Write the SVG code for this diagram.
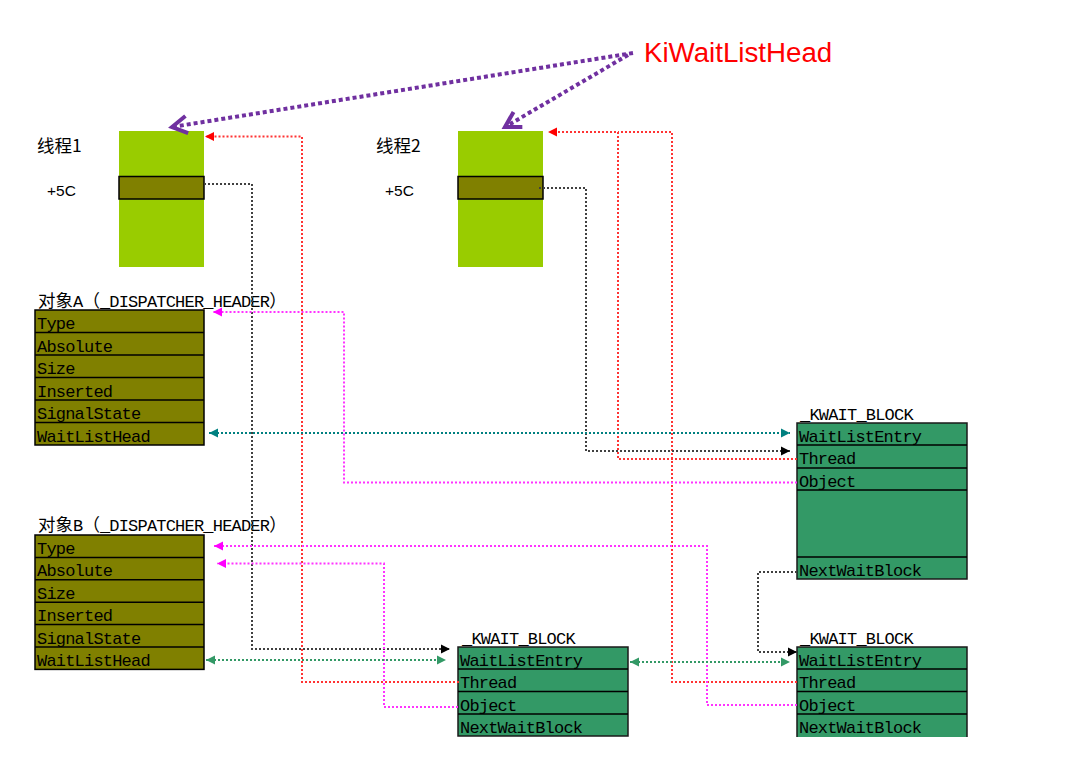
<svg xmlns="http://www.w3.org/2000/svg" width="1066" height="781" viewBox="0 0 1066 781">
<style>
.mono{font-family:"Liberation Mono","DejaVu Sans Mono",monospace;font-size:17px;letter-spacing:-0.8px;fill:#000}
.cjk{font-family:"Noto Sans CJK SC",sans-serif;font-size:17.5px;letter-spacing:0}
.lbl{font-family:"Noto Sans CJK SC","Liberation Sans",sans-serif;font-size:17.5px;fill:#000}
.off{font-family:"Liberation Sans",Arial,sans-serif;font-size:15.5px;fill:#000}
.olive{fill:#808000;stroke:#000;stroke-width:1.5}
.wb{fill:#339966;stroke:#1a1a1a;stroke-width:1.5}
.row{stroke:#000;stroke-width:1.5;fill:none}
.c{fill:none;stroke-width:2;stroke-dasharray:2 2}
.pur{fill:none;stroke:#7030A0;stroke-width:4;stroke-dasharray:4 3}
</style>
<defs>
<marker id="aR" markerUnits="userSpaceOnUse" orient="auto-start-reverse" overflow="visible" markerWidth="10" markerHeight="10"><path d="M-9,-4.5 L0,0 L-9,4.5Z" fill="#ff0000"/></marker>
<marker id="aK" markerUnits="userSpaceOnUse" orient="auto-start-reverse" overflow="visible" markerWidth="10" markerHeight="10"><path d="M-9,-4.5 L0,0 L-9,4.5Z" fill="#000"/></marker>
<marker id="aT" markerUnits="userSpaceOnUse" orient="auto-start-reverse" overflow="visible" markerWidth="10" markerHeight="10"><path d="M-9,-4.5 L0,0 L-9,4.5Z" fill="#008080"/></marker>
<marker id="aM" markerUnits="userSpaceOnUse" orient="auto-start-reverse" overflow="visible" markerWidth="10" markerHeight="10"><path d="M-9,-4.5 L0,0 L-9,4.5Z" fill="#ff00ff"/></marker>
<marker id="aG" markerUnits="userSpaceOnUse" orient="auto-start-reverse" overflow="visible" markerWidth="10" markerHeight="10"><path d="M-9,-4.5 L0,0 L-9,4.5Z" fill="#339966"/></marker>
<marker id="aP" markerUnits="userSpaceOnUse" orient="auto" overflow="visible" markerWidth="20" markerHeight="20"><path d="M-15,-8.7 L0,0 L-15,8.7" fill="none" stroke="#7030A0" stroke-width="4"/></marker>
</defs>
<rect width="1066" height="781" fill="#fff"/>

<g id="kiwaitlisthead">
<text x="644" y="62" font-family="Liberation Sans,Arial,sans-serif" font-size="27.7" fill="#ff0000">KiWaitListHead</text>
</g>

<g id="thread1">
<text class="lbl" x="37" y="152">线程1</text>
<text class="off" x="47" y="196">+5C</text>
<rect x="119" y="131" width="85" height="136" fill="#99cc00"/>
<rect x="119" y="176.5" width="85" height="22.5" class="olive"/>
</g>

<g id="thread2">
<text class="lbl" x="376" y="152">线程2</text>
<text class="off" x="385" y="196">+5C</text>
<rect x="458" y="131" width="85" height="136" fill="#99cc00"/>
<rect x="458" y="176.5" width="85" height="22.5" class="olive"/>
</g>

<g id="objA">
<text class="mono" x="38" y="307"><tspan class="cjk">对象</tspan>A<tspan class="cjk">（</tspan>_DISPATCHER_HEADER<tspan class="cjk">）</tspan></text>
<rect x="35" y="310" width="169" height="135" class="olive"/>
<path class="row" d="M35,332.5H204M35,355H204M35,377.5H204M35,400H204M35,422.5H204"/>
<text class="mono" x="37" y="329">Type</text>
<text class="mono" x="37" y="351.5">Absolute</text>
<text class="mono" x="37" y="374">Size</text>
<text class="mono" x="37" y="396.5">Inserted</text>
<text class="mono" x="37" y="419">SignalState</text>
<text class="mono" x="37" y="441.5">WaitListHead</text>
</g>

<g id="objB">
<text class="mono" x="38" y="531"><tspan class="cjk">对象</tspan>B<tspan class="cjk">（</tspan>_DISPATCHER_HEADER<tspan class="cjk">）</tspan></text>
<rect x="35" y="535" width="169" height="134.4" class="olive"/>
<path class="row" d="M35,557.4H204M35,579.8H204M35,602.2H204M35,624.6H204M35,647H204"/>
<text class="mono" x="37" y="553.5">Type</text>
<text class="mono" x="37" y="576">Absolute</text>
<text class="mono" x="37" y="598.5">Size</text>
<text class="mono" x="37" y="621">Inserted</text>
<text class="mono" x="37" y="643.5">SignalState</text>
<text class="mono" x="37" y="666">WaitListHead</text>
</g>

<g id="kwait1">
<text class="mono" x="800" y="420">_KWAIT_BLOCK</text>
<rect x="797" y="423" width="170" height="156" class="wb"/>
<path class="row" d="M797,445H967M797,468H967M797,490H967M797,557H967"/>
<text class="mono" x="799" y="441.5">WaitListEntry</text>
<text class="mono" x="799" y="464">Thread</text>
<text class="mono" x="799" y="486.5">Object</text>
<text class="mono" x="799" y="575.5">NextWaitBlock</text>
</g>

<g id="kwait2">
<text class="mono" x="462" y="644">_KWAIT_BLOCK</text>
<rect x="458" y="647" width="170" height="89" class="wb"/>
<path class="row" d="M458,669H628M458,691.5H628M458,714H628"/>
<text class="mono" x="460" y="665.5">WaitListEntry</text>
<text class="mono" x="460" y="688">Thread</text>
<text class="mono" x="460" y="710.5">Object</text>
<text class="mono" x="460" y="732.5">NextWaitBlock</text>
</g>

<g id="kwait3">
<text class="mono" x="800" y="644">_KWAIT_BLOCK</text>
<rect x="797" y="647" width="170" height="90" fill="#339966"/>
<path d="M797,737V647H967V737" fill="none" stroke="#1a1a1a" stroke-width="1.5"/>
<path class="row" d="M797,669H967M797,691.5H967M797,714H967"/>
<text class="mono" x="799" y="665.5">WaitListEntry</text>
<text class="mono" x="799" y="688">Thread</text>
<text class="mono" x="799" y="710.5">Object</text>
<text class="mono" x="799" y="732.5">NextWaitBlock</text>
</g>

<g id="connectors">
<path class="pur" d="M633,53 L172,127" marker-end="url(#aP)"/>
<path class="pur" d="M628,55 L505,127" marker-end="url(#aP)"/>
<path class="c" stroke="#ff3333" d="M459,682H302V136.5H205" marker-end="url(#aR)"/>
<path class="c" stroke="#ff3333" d="M797,682H672V132H618"/>
<path class="c" stroke="#ff3333" d="M797,459H618V132H548" marker-end="url(#aR)"/>
<path class="c" stroke="#404040" d="M204,184H252V649H450" marker-end="url(#aK)"/>
<path class="c" stroke="#404040" d="M539,188H586V451H790" marker-end="url(#aK)"/>
<path class="c" stroke="#404040" d="M797,572H758V652H797" marker-end="url(#aK)"/>
<path class="c" stroke="#008080" d="M209,433H790" marker-start="url(#aT)" marker-end="url(#aT)"/>
<path class="c" stroke="#ff33ff" d="M797,482.5H344V312H213" marker-end="url(#aM)"/>
<path class="c" stroke="#ff33ff" d="M797,705H707V546H214" marker-end="url(#aM)"/>
<path class="c" stroke="#ff33ff" d="M458,707H384V563.5H217" marker-end="url(#aM)"/>
<path class="c" stroke="#339966" d="M206,660H446" marker-start="url(#aG)" marker-end="url(#aG)"/>
<path class="c" stroke="#339966" d="M630,662H790" marker-start="url(#aG)" marker-end="url(#aG)"/>
</g>
</svg>
